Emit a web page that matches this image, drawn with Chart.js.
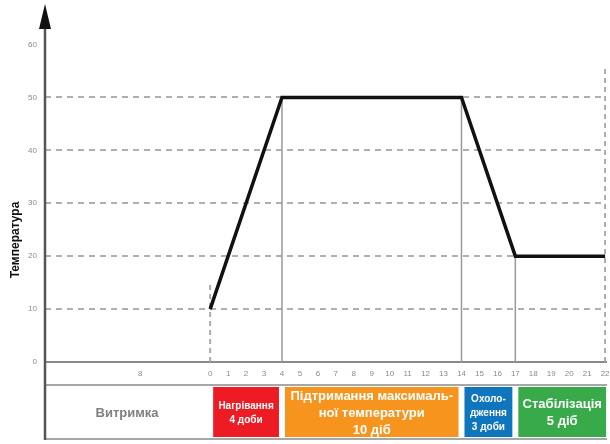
<!DOCTYPE html>
<html>
<head>
<meta charset="utf-8">
<script src="https://cdn.jsdelivr.net/npm/chart.js@4.4.0/dist/chart.umd.min.js"></script>
<style>
  html, body { margin: 0; padding: 0; background: #fff; }
  #wrap { width: 610px; height: 444px; position: relative; }
</style>
</head>
<body>
<div id="wrap"><canvas id="chart"></canvas></div>
<script>
// temperature profile (days / degrees)
const days = [0, 4, 14, 17, 22];
const temps = [10, 50, 50, 20, 20];
const yTicks = [0, 10, 20, 30, 40, 50, 60];
const xTickValues = [-3.9, 0, 1, 2, 3, 4, 5, 6, 7, 8, 9, 10, 11, 12, 13, 14, 15, 16, 17, 18, 19, 20, 21, 22];
const xTickLabels = ['8', '0', '1', '2', '3', '4', '5', '6', '7', '8', '9', '10', '11', '12', '13', '14', '15', '16', '17', '18', '19', '20', '21', '22'];
const yTitle = 'Температура';

// stages under the axis
const stageNames = [
  ['Витримка'],
  ['Нагрівання', '4 доби'],
  ['Підтримання максималь-', 'ної температури', '10 діб'],
  ['Охоло-', 'дження', '3 доби'],
  ['Стабілізація', '5 діб']
];
const stageStart = [-9.2, 0, 4, 14, 17];
const stageEnd = [0, 4, 14, 17, 22];
const stageColors = ['#ffffff', '#ed1c24', '#f7941d', '#0f75bc', '#39aa4a'];
const stageText = ['#808080', '#fff', '#fff', '#fff', '#fff'];
const stageFont = [13, 10, 13, 10, 13];

const FONT = '"Liberation Sans", Arial, sans-serif';

// drop lines from the profile down to the axis
const dropSolid = [];
[1, 2, 3].forEach(i => {
  dropSolid.push({x: days[i], y: 0}, {x: days[i], y: temps[i]}, {x: days[i], y: null});
});
const dropDashed = [
  {x: days[0], y: 0}, {x: days[0], y: temps[0] + 5.3}, {x: days[0], y: null},
  {x: days[4], y: 0}, {x: days[4], y: 55.5}
];

const extras = {
  id: 'extras',
  afterDraw(chart) {
    const ctx = chart.ctx;
    const xs = chart.scales.x;
    const area = chart.chartArea;
    const left = area.left, bottom = area.bottom;
    const right = xs.getPixelForValue(22) + 2;
    ctx.save();

    // row lines under the tick labels
    ctx.strokeStyle = '#8a8a8a';
    ctx.lineWidth = 1.5;
    ctx.beginPath();
    ctx.moveTo(left, bottom + 23); ctx.lineTo(right, bottom + 23);
    ctx.moveTo(left, bottom + 77); ctx.lineTo(right, bottom + 77);
    ctx.stroke();

    // stage boxes
    const top = bottom + 25, h = 50;
    stageNames.forEach((lines, i) => {
      const x0 = i === 0 ? left + 2 : xs.getPixelForValue(stageStart[i]) + 3;
      const x1 = i === stageNames.length - 1 ? xs.getPixelForValue(stageEnd[i]) + 1 : xs.getPixelForValue(stageEnd[i]) - 3;
      ctx.fillStyle = stageColors[i];
      ctx.fillRect(x0, top, x1 - x0, h);
      ctx.fillStyle = stageText[i];
      ctx.font = 'bold ' + stageFont[i] + 'px ' + FONT;
      ctx.textAlign = 'center';
      ctx.textBaseline = 'middle';
      const lh = stageFont[i] + 4;
      const cy = top + h / 2 + 1 - (lines.length - 1) * lh / 2;
      lines.forEach((t, k) => ctx.fillText(t, (x0 + x1) / 2, cy + k * lh));
    });

    // y axis line with arrow
    ctx.strokeStyle = '#555';
    ctx.lineWidth = 2.5;
    ctx.beginPath();
    ctx.moveTo(left, 20); ctx.lineTo(left, bottom + 78);
    ctx.stroke();
    ctx.fillStyle = '#111';
    ctx.beginPath();
    ctx.moveTo(left, 4); ctx.lineTo(left - 6, 29); ctx.lineTo(left + 6, 29);
    ctx.closePath();
    ctx.fill();

    // axis title
    ctx.translate(16, 240);
    ctx.rotate(-Math.PI / 2);
    ctx.fillStyle = '#111';
    ctx.font = 'bold 12px ' + FONT;
    ctx.textAlign = 'center';
    ctx.textBaseline = 'middle';
    ctx.fillText(yTitle, 0, 0);
    ctx.restore();
  }
};

new Chart(document.getElementById('chart'), {
  type: 'line',
  data: {
    datasets: [
      {
        data: days.map((d, i) => ({x: d, y: temps[i]})),
        borderColor: '#111',
        borderWidth: 3.5,
        pointRadius: 0,
        tension: 0,
        order: 0
      },
      {
        data: dropSolid,
        borderColor: '#999',
        borderWidth: 1.5,
        pointRadius: 0,
        spanGaps: false,
        order: 1
      },
      {
        data: dropDashed,
        borderColor: '#aaa',
        borderWidth: 2,
        borderDash: [5, 4],
        pointRadius: 0,
        spanGaps: false,
        order: 2
      }
    ]
  },
  options: {
    responsive: true,
    maintainAspectRatio: false,
    animation: false,
    layout: { padding: { top: 10, right: 4, left: 0, bottom: 0 } },
    plugins: { legend: { display: false }, tooltip: { enabled: false } },
    scales: {
      x: {
        type: 'linear',
        min: -9.2,
        max: 22.05,
        afterFit(scale) { scale.height = 82; scale.paddingRight = 0; scale.paddingLeft = 0; },
        afterBuildTicks(scale) { scale.ticks = xTickValues.map(v => ({value: v})); },
        ticks: {
          autoSkip: false,
          maxRotation: 0,
          padding: 7,
          color: '#8a8a8a',
          font: { family: FONT, size: 8 },
          callback: (v, i) => xTickLabels[i]
        },
        grid: { display: false, drawTicks: false },
        border: { display: true, color: '#8a8a8a', width: 2 }
      },
      y: {
        min: 0,
        max: 66,
        afterFit(scale) { scale.width = 45; },
        afterBuildTicks(scale) { scale.ticks = yTicks.map(v => ({value: v})); },
        ticks: {
          padding: 8,
          color: '#8a8a8a',
          font: { family: FONT, size: 8 }
        },
        grid: {
          drawTicks: false,
          color: ctx => (ctx.tick.value > 0 && ctx.tick.value < 60) ? '#b0b0b0' : 'rgba(0,0,0,0)',
          lineWidth: 2
        },
        border: { display: false, dash: [6, 5] }
      }
    }
  },
  plugins: [extras]
});
</script>
</body>
</html>
